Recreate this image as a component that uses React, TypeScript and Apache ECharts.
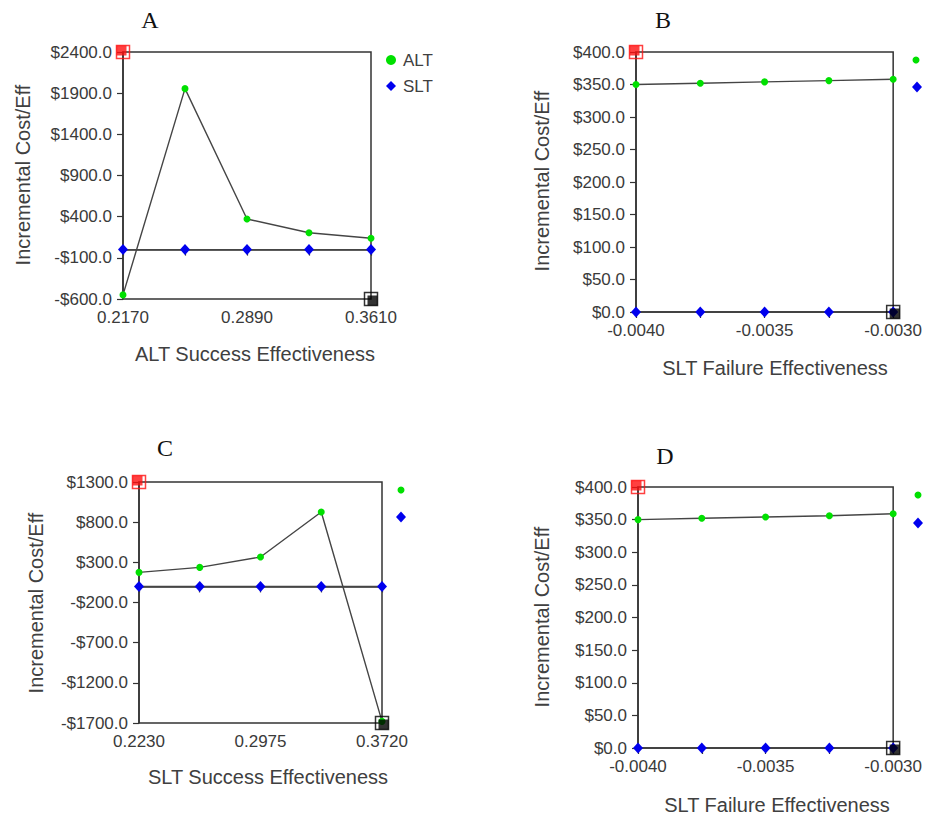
import React, { useEffect, useRef } from 'react';
import * as echarts from 'echarts';

// ---------- data ----------
const panelTitles = ['A', 'B', 'C', 'D'];
const xAxisNames = [
  'ALT Success Effectiveness',
  'SLT Failure Effectiveness',
  'SLT Success Effectiveness',
  'SLT Failure Effectiveness',
];
const yAxisName = 'Incremental Cost/Eff';
const seriesNames = ['ALT', 'SLT'];

const xA = [0.217, 0.253, 0.289, 0.325, 0.361];
const altA = [-550, 1955, 372, 205, 137];
const sltA = [0, 0, 0, 0, 0];

const xB = [-0.004, -0.00375, -0.0035, -0.00325, -0.003];
const altB = [350, 352, 354, 356, 358];
const sltB = [0, 0, 0, 0, 0];

const xC = [0.223, 0.26025, 0.2975, 0.33475, 0.372];
const altC = [175, 237, 366, 927, -1680];
const sltC = [0, 0, 0, 0, 0];

const xD = [-0.004, -0.00375, -0.0035, -0.00325, -0.003];
const altD = [350, 352, 354, 356, 359];
const sltD = [0, 0, 0, 0, 0];

// y ranges [min, max, interval]
const yRangeA = [-600, 2400, 500];
const yRangeB = [0, 400, 50];
const yRangeC = [-1700, 1300, 500];
const yRangeD = [0, 400, 50];

// ---------- layout / styles ----------
const grids = [
  { left: 123, top: 52, width: 248, height: 247 },
  { left: 636, top: 52, width: 259, height: 260 },
  { left: 139, top: 482, width: 243, height: 241 },
  { left: 638, top: 487, width: 261, height: 261 },
];
const titlePos = [
  [150, 20],
  [663, 20],
  [165, 448],
  [665, 456],
];
const xNamePos = [
  [255, 354],
  [775, 368],
  [268, 777],
  [777, 805],
];
const yNamePos = [
  [23, 175],
  [542, 181],
  [36, 603],
  [542, 617],
];
const legendMarkPos = [
  null,
  [[916, 60], [917, 87]],
  [[401, 490], [401, 517]],
  [[918, 495], [918, 523]],
];

const GREEN = '#00e000';
const BLUE = '#0000ee';
const AXIS = '#333333';
const LINE = '#454545';
const FONT = '"Liberation Sans", Arial, sans-serif';

export default function App() {
  const ref = useRef<HTMLDivElement>(null);

  useEffect(() => {
    const chart = echarts.init(ref.current!, null, { renderer: 'svg' });

    const panels = [
      { x: xA, alt: altA, slt: sltA, y: yRangeA },
      { x: xB, alt: altB, slt: sltB, y: yRangeB },
      { x: xC, alt: altC, slt: sltC, y: yRangeC },
      { x: xD, alt: altD, slt: sltD, y: yRangeD },
    ];

    const xAxes: any[] = [];
    const yAxes: any[] = [];
    const series: any[] = [];
    const graphics: any[] = [];

    panels.forEach((p, i) => {
      const xmin = p.x[0];
      const xmax = p.x[p.x.length - 1];
      const interval = p.x[1] - p.x[0];
      xAxes.push({
        type: 'value',
        gridIndex: i,
        min: xmin,
        max: xmax,
        interval: Math.round(interval * 1e7) / 1e7,
        axisLine: { show: true, lineStyle: { color: AXIS, width: 1.5 } },
        axisTick: { show: true, length: 6, lineStyle: { color: AXIS, width: 1.2 } },
        splitLine: { show: false },
        axisLabel: {
          margin: 10,
          color: '#3a3a3a',
          fontFamily: FONT,
          fontSize: 17,
          showMinLabel: true,
          showMaxLabel: true,
          formatter: (v: number, idx: number) => (idx % 2 === 0 ? v.toFixed(4) : ''),
        },
      });
      yAxes.push({
        type: 'value',
        gridIndex: i,
        min: p.y[0],
        max: p.y[1],
        interval: p.y[2],
        axisLine: { show: true, lineStyle: { color: AXIS, width: 1.5 } },
        axisTick: { show: true, length: 6, lineStyle: { color: AXIS, width: 1.2 } },
        splitLine: { show: false },
        axisLabel: {
          margin: 11,
          color: '#3a3a3a',
          fontFamily: FONT,
          fontSize: 17,
          formatter: (v: number) => (v < 0 ? '-$' : '$') + Math.abs(v).toFixed(1),
        },
      });

      const common = { xAxisIndex: i, yAxisIndex: i, type: 'line', clip: false, silent: true };
      series.push({
        ...common,
        name: seriesNames[0],
        data: p.x.map((xv, k) => [xv, p.alt[k]]),
        symbol: 'circle',
        symbolSize: 7,
        itemStyle: { color: GREEN, borderWidth: 0 },
        lineStyle: { color: LINE, width: 1.4 },
        z: 3,
      });
      series.push({
        ...common,
        name: seriesNames[1],
        data: p.x.map((xv, k) => [xv, p.slt[k]]),
        symbol: 'diamond',
        symbolSize: [10, 11],
        itemStyle: { color: BLUE, borderWidth: 0 },
        lineStyle: { color: LINE, width: 1.4 },
        z: 3,
      });
      // corner markers
      const sc = { xAxisIndex: i, yAxisIndex: i, type: 'scatter', clip: false, silent: true, z: 5 };
      series.push({
        ...sc,
        data: [[xmin, p.y[1]]],
        symbol: 'rect',
        symbolSize: 13,
        itemStyle: { color: 'rgba(255,255,255,0)', borderColor: '#ff1010', borderWidth: 1.5 },
      });
      series.push({
        ...sc,
        data: [[xmin, p.y[1]]],
        symbol: 'rect',
        symbolSize: 10,
        symbolOffset: [-1.5, -1.5],
        itemStyle: { color: '#ff1010' },
      });
      series.push({
        ...sc,
        data: [[xmax, p.y[0]]],
        symbol: 'rect',
        symbolSize: 13,
        itemStyle: { color: 'rgba(255,255,255,0)', borderColor: '#000', borderWidth: 1.5 },
      });
      series.push({
        ...sc,
        data: [[xmax, p.y[0]]],
        symbol: 'rect',
        symbolSize: 10,
        symbolOffset: [1.5, 1.5],
        itemStyle: { color: '#000' },
      });

      graphics.push({
        type: 'text',
        x: titlePos[i][0],
        y: titlePos[i][1],
        style: {
          text: panelTitles[i],
          font: '24px "Liberation Serif", "Times New Roman", serif',
          fill: '#111',
          align: 'center',
          verticalAlign: 'middle',
        },
      });
      graphics.push({
        type: 'text',
        x: xNamePos[i][0],
        y: xNamePos[i][1],
        style: {
          text: xAxisNames[i],
          font: '20px ' + FONT,
          fill: '#404040',
          align: 'center',
          verticalAlign: 'middle',
        },
      });
      graphics.push({
        type: 'text',
        x: yNamePos[i][0],
        y: yNamePos[i][1],
        rotation: Math.PI / 2,
        style: {
          text: yAxisName,
          font: '20px ' + FONT,
          fill: '#404040',
          align: 'center',
          verticalAlign: 'middle',
        },
      });
      const lm = legendMarkPos[i];
      if (lm) {
        graphics.push({
          type: 'circle',
          shape: { cx: lm[0][0], cy: lm[0][1], r: 3.5 },
          style: { fill: GREEN },
        });
        const [bx, by] = lm[1];
        graphics.push({
          type: 'polygon',
          shape: { points: [[bx, by - 5.5], [bx + 5, by], [bx, by + 5.5], [bx - 5, by]] },
          style: { fill: BLUE },
        });
      }
    });

    const option: any = {
      animation: false,
      backgroundColor: '#ffffff',
      grid: grids.map((g) => ({
        ...g,
        show: true,
        borderColor: AXIS,
        borderWidth: 1.5,
        backgroundColor: 'transparent',
        containLabel: false,
      })),
      xAxis: xAxes,
      yAxis: yAxes,
      legend: {
        left: 381,
        top: 46,
        orient: 'vertical',
        itemWidth: 10,
        itemHeight: 10,
        itemGap: 8,
        selectedMode: false,
        textStyle: { fontFamily: FONT, fontSize: 17, color: '#404040', lineHeight: 18, padding: [0, 0, 0, 2] },
        data: [
          { name: 'ALT', icon: 'circle', itemStyle: { color: GREEN } },
          { name: 'SLT', icon: 'diamond', itemStyle: { color: BLUE } },
        ],
      },
      graphic: graphics,
      series,
    };

    chart.setOption(option);
    return () => chart.dispose();
  }, []);

  return (
    <div
      ref={ref}
      style={{ position: 'absolute', left: 0, top: 0, width: 925, height: 816, background: '#fff' }}
    />
  );
}
